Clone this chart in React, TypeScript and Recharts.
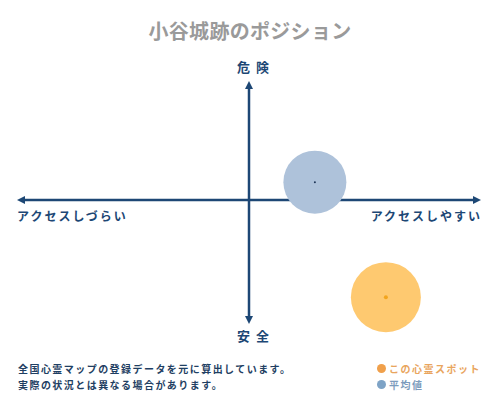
import React from 'react';
import { ScatterChart, Scatter, XAxis, YAxis, ReferenceLine } from 'recharts';

const spotPoints = [{ x: 5.9, y: -8.15 }];
const averagePoints = [{ x: 2.84, y: 1.51 }];
const xDomain = [-10, 10];
const yDomain = [-10.4, 10];

const axisLabels = { top: '危険', bottom: '安全', left: 'アクセスしづらい', right: 'アクセスしやすい' };
const noteLines = ['全国心霊マップの登録データを元に算出しています。', '実際の状況とは異なる場合があります。'];
const legendItems = [
  { name: 'この心霊スポット', dot: '#f0a04b', text: '#e9a55e' },
  { name: '平均値', dot: '#7ea3c6', text: '#7d9cbd' },
];

const NAVY = '#1d4775';
const FONT = "'Noto Sans CJK JP', sans-serif";

// line with an arrow head at both ends
function ArrowLine(props: any) {
  const { x1, y1, x2, y2 } = props;
  const dx = x2 - x1;
  const dy = y2 - y1;
  const len = Math.sqrt(dx * dx + dy * dy) || 1;
  const ux = dx / len;
  const uy = dy / len;
  const head = 8;
  const half = 4;
  const tri = (tx: number, ty: number, dirx: number, diry: number) => {
    const bx = tx - dirx * head;
    const by = ty - diry * head;
    return `${tx},${ty} ${bx - diry * half},${by + dirx * half} ${bx + diry * half},${by - dirx * half}`;
  };
  return (
    <g>
      <line x1={x1 + ux * 4} y1={y1 + uy * 4} x2={x2 - ux * 4} y2={y2 - uy * 4} stroke={NAVY} strokeWidth={2.5} />
      <polygon points={tri(x2, y2, ux, uy)} fill={NAVY} />
      <polygon points={tri(x1, y1, -ux, -uy)} fill={NAVY} />
    </g>
  );
}

const spotShape = (props: any) => (
  <g>
    <circle cx={props.cx} cy={props.cy} r={35} fill="#fec970" />
    <circle cx={props.cx} cy={props.cy} r={2} fill="#f2a51f" />
  </g>
);

const averageShape = (props: any) => (
  <g>
    <circle cx={props.cx} cy={props.cy} r={31.5} fill="#aec2da" />
    <circle cx={props.cx} cy={props.cy} r={1} fill="#1d3557" />
  </g>
);

const abs = (style: React.CSSProperties): React.CSSProperties => ({ position: 'absolute', fontFamily: FONT, whiteSpace: 'nowrap', ...style });

export default function App() {
  return (
    <div style={{ position: 'relative', width: 500, height: 400, background: '#fff' }}>
      <style>{'body{margin:0}'}</style>
      <ScatterChart width={500} height={400} margin={{ top: 81, right: 19, bottom: 76, left: 17 }}>
        <XAxis type="number" dataKey="x" domain={xDomain} hide />
        <YAxis type="number" dataKey="y" domain={yDomain} hide />
        <ReferenceLine segment={[{ x: xDomain[0], y: 0 }, { x: xDomain[1], y: 0 }]} shape={ArrowLine} ifOverflow="visible" />
        <ReferenceLine segment={[{ x: 0, y: yDomain[0] }, { x: 0, y: yDomain[1] }]} shape={ArrowLine} ifOverflow="visible" />
        <Scatter data={averagePoints} shape={averageShape} isAnimationActive={false} />
        <Scatter data={spotPoints} shape={spotShape} isAnimationActive={false} />
      </ScatterChart>

      <div style={abs({ left: 0, width: 500, top: 16, textAlign: 'center', fontSize: 20, fontWeight: 700, color: '#9a9a9a', letterSpacing: 0.3 })}>
        小谷城跡のポジション
      </div>
      <div style={abs({ left: 0, width: 500, top: 57, textAlign: 'center', fontSize: 13, fontWeight: 700, color: NAVY, letterSpacing: 6, paddingLeft: 6 })}>
        {axisLabels.top}
      </div>
      <div style={abs({ left: 0, width: 500, top: 326, textAlign: 'center', fontSize: 13, fontWeight: 700, color: NAVY, letterSpacing: 6, paddingLeft: 6 })}>
        {axisLabels.bottom}
      </div>
      <div style={abs({ left: 17, top: 207, fontSize: 12, fontWeight: 700, color: NAVY, letterSpacing: 2 })}>
        {axisLabels.left}
      </div>
      <div style={abs({ right: 18, top: 207, fontSize: 12, fontWeight: 700, color: NAVY, letterSpacing: 2 })}>
        {axisLabels.right}
      </div>
      {noteLines.map((t, i) => (
        <div key={t} style={abs({ left: 18, top: 361 + i * 16, fontSize: 10, fontWeight: 700, color: '#1f3f63', letterSpacing: 1.45 })}>
          {t}
        </div>
      ))}
      {legendItems.map((item, i) => (
        <div key={item.name} style={abs({ left: 377, top: 361 + i * 16, fontSize: 10, fontWeight: 700, color: item.text, letterSpacing: 1.5, display: 'flex', alignItems: 'center' })}>
          <span style={{ display: 'inline-block', width: 9, height: 9, borderRadius: '50%', background: item.dot, marginRight: 3 }} />
          {item.name}
        </div>
      ))}
    </div>
  );
}
